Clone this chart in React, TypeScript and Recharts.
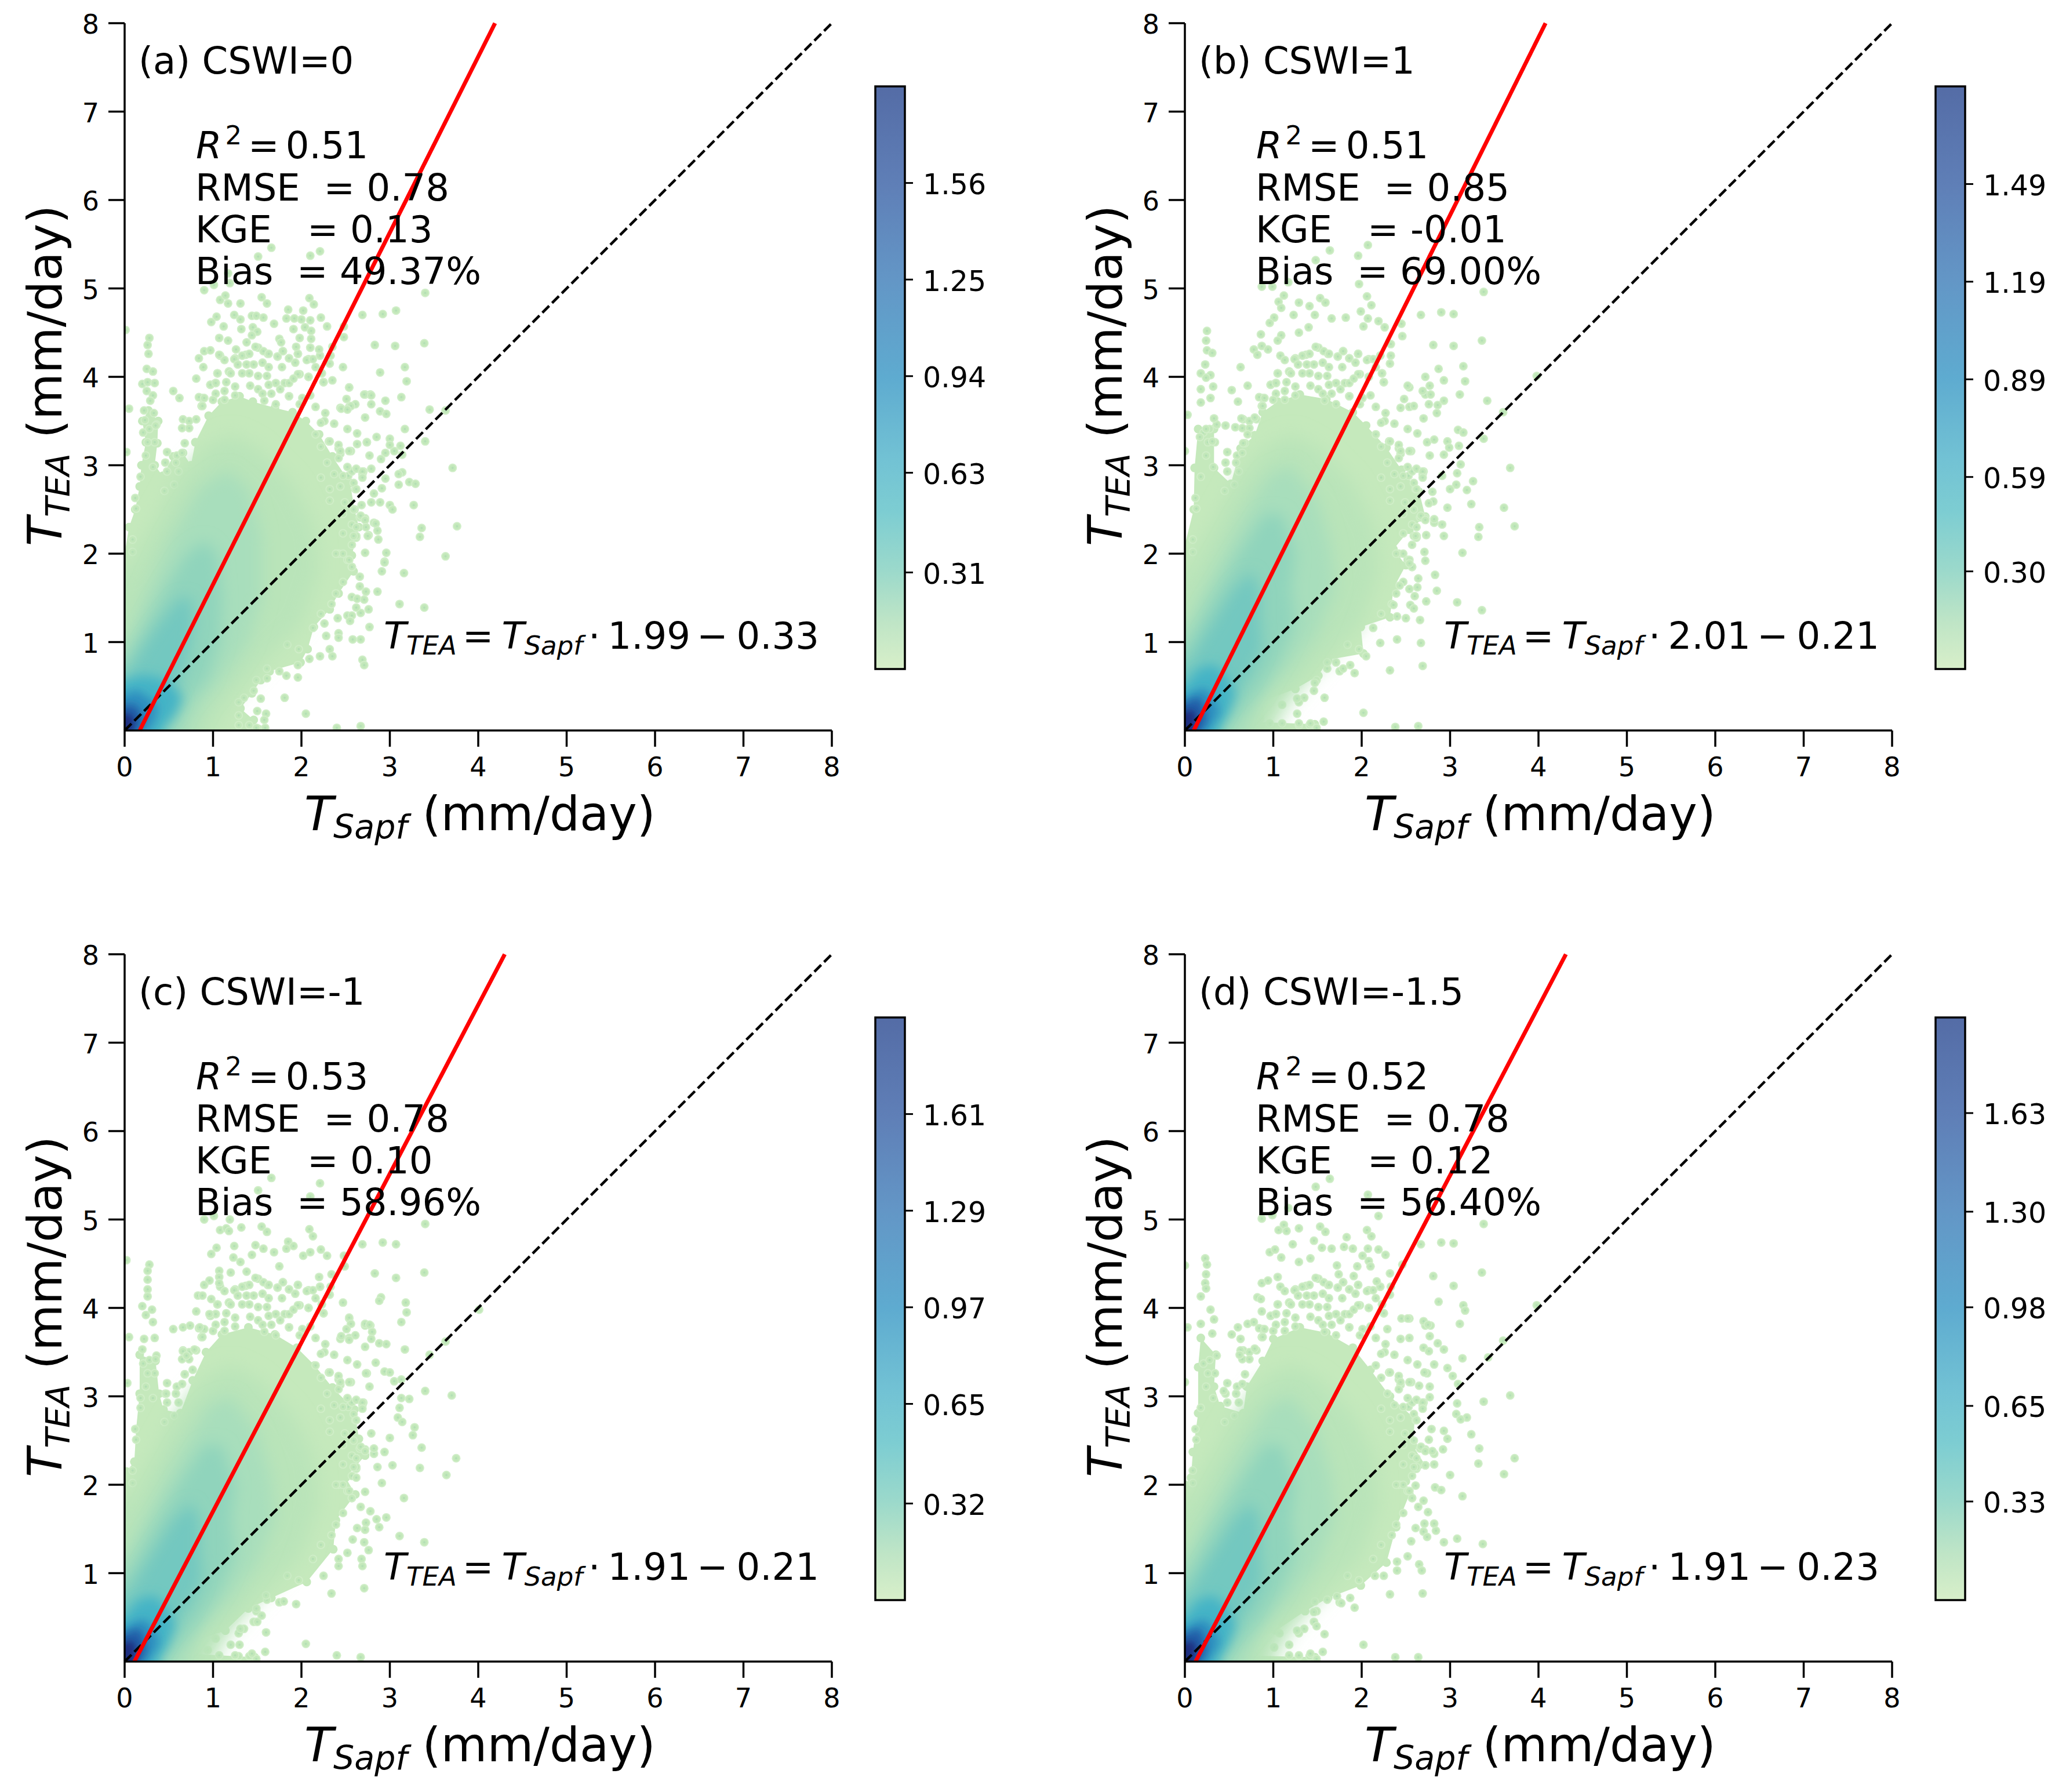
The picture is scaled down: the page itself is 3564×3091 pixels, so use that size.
import React from 'react'
import { ScatterChart, Scatter, XAxis, YAxis, ReferenceLine, BarChart, Bar } from 'recharts'

const FONT = '"DejaVu Sans", sans-serif'

const xTicks = [0, 1, 2, 3, 4, 5, 6, 7, 8]
const yTicks = [1, 2, 3, 4, 5, 6, 7, 8]
const identityLine = [[0, 0], [8, 8]]

// outer edge of the solid part of the point cloud in each panel
const envelopeA = [[-0.3, -0.3], [-0.3, 2.0], [0, 2.0], [0.05, 2.3], [0.12, 2.5], [0.17, 2.76], [0.19, 3.0], [0.24, 3.26], [0.2, 3.5], [0.27, 3.62], [0.38, 3.5], [0.37, 3.25], [0.34, 3.0], [0.43, 2.88], [0.55, 3.1], [0.66, 3.14], [0.75, 3.0], [0.8, 3.26], [0.95, 3.56], [1.1, 3.72], [1.3, 3.78], [1.45, 3.72], [1.7, 3.65], [1.9, 3.6], [2.05, 3.5], [2.2, 3.35], [2.35, 3.1], [2.55, 2.8], [2.6, 2.5], [2.65, 2.3], [2.57, 1.98], [2.59, 1.8], [2.42, 1.55], [2.32, 1.37], [2.14, 1.17], [2.07, 0.92], [1.99, 0.77], [1.64, 0.67], [1.54, 0.57], [1.44, 0.42], [1.31, 0.25], [1.46, 0.12], [1.51, 0.02], [1.51, -0.3]]
const envelopeB = [[-0.3, -0.3], [-0.3, 1.95], [0, 2.1], [0.1, 2.5], [0.11, 2.97], [0.15, 3.41], [0.33, 3.41], [0.33, 2.97], [0.52, 2.79], [0.63, 3.19], [0.79, 3.34], [0.88, 3.6], [1.05, 3.72], [1.3, 3.8], [1.6, 3.75], [1.9, 3.6], [2.05, 3.45], [2.28, 3.2], [2.45, 2.95], [2.65, 2.7], [2.72, 2.42], [2.54, 2.27], [2.36, 2.05], [2.5, 1.87], [2.36, 1.61], [2.32, 1.28], [1.99, 1.17], [2.02, 0.87], [1.62, 0.8], [1.51, 0.62], [1.25, 0.47], [0.85, 0.32], [0.74, 0.1], [1.47, 0.07], [1.47, -0.3]]
const envelopeC = [[-0.3, -0.3], [-0.3, 2.15], [0.02, 2.15], [0.11, 2.26], [0.13, 2.63], [0.17, 3.03], [0.17, 3.47], [0.35, 3.4], [0.39, 3.03], [0.44, 2.85], [0.63, 2.81], [0.77, 3.18], [0.92, 3.5], [1.1, 3.7], [1.4, 3.78], [1.7, 3.7], [1.95, 3.55], [2.15, 3.35], [2.35, 3.1], [2.6, 2.85], [2.65, 2.52], [2.72, 2.33], [2.5, 2.08], [2.61, 1.89], [2.39, 1.6], [2.36, 1.27], [2.06, 0.9], [1.66, 0.72], [1.4, 0.6], [1.14, 0.35], [0.81, 0.24], [0.7, 0.09], [1.47, 0.05], [1.47, -0.3]]
const envelopeD = [[-0.3, -0.3], [-0.3, 2.0], [0, 2.0], [0.07, 2.08], [0.09, 2.37], [0.15, 2.81], [0.15, 3.33], [0.18, 3.66], [0.35, 3.47], [0.33, 3.11], [0.4, 2.89], [0.66, 2.81], [0.7, 3.11], [0.88, 3.4], [1.0, 3.65], [1.3, 3.78], [1.6, 3.72], [1.9, 3.55], [2.1, 3.3], [2.32, 3.0], [2.6, 2.75], [2.58, 2.44], [2.72, 2.22], [2.5, 2.04], [2.54, 1.89], [2.39, 1.52], [2.28, 1.12], [1.99, 0.86], [1.62, 0.72], [1.36, 0.57], [1.03, 0.35], [0.77, 0.24], [0.66, 0.07], [1.47, 0.05], [1.47, -0.3]]

// points along the rim of the cloud, at much the same places in all four panels
const rimPoints = [[0.66, 3.52], [0.73, 3.5], [0.81, 3.52], [0.65, 3.42], [0.73, 3.42], [0.68, 3.25], [0.48, 3.15], [0.59, 3.11], [0.65, 3.14], [0.46, 3.03], [0.58, 3.03], [0.48, 2.93], [0.61, 2.93], [0.18, 2.87], [0.56, 2.78], [0.45, 2.71], [0.12, 2.63], [0.13, 2.51], [0.09, 2.16], [0.09, 2.02], [0.21, 3.37], [0.34, 3.26], [0.36, 3.46], [0.28, 3.41], [0.26, 3.26], [0.24, 3.11], [0.32, 2.98], [0.88, 3.76], [0.87, 3.67], [0.97, 3.91], [1.03, 3.93], [1.05, 4.04], [1.18, 4.06], [1.25, 4.21], [1.37, 4.25], [1.51, 4.33], [1.62, 4.26], [1.73, 4.23], [1.79, 4.29], [1.86, 4.21], [1.96, 4.26], [2.08, 4.2], [2.21, 4.24], [2.33, 4.24], [2.32, 4.15], [2.23, 4.04], [2.25, 3.94], [2.08, 4.0], [1.98, 4.03], [1.86, 3.78], [2.27, 3.59], [2.26, 3.5], [2.16, 3.35], [2.31, 3.27], [2.42, 3.19], [2.56, 3.16], [2.7, 2.93], [2.53, 2.88], [2.61, 2.73], [2.66, 2.41], [2.62, 2.18], [2.34, 1.43], [2.39, 1.55], [2.47, 1.68], [2.57, 1.85], [2.52, 1.93], [2.42, 2.0], [2.22, 1.32], [2.13, 1.16], [1.97, 0.92], [1.84, 0.97], [1.75, 0.67], [1.61, 0.7], [1.49, 0.57], [1.46, 0.45], [1.35, 0.37], [1.29, 0.32], [1.41, 0.06], [1.29, 0.06], [1.49, 0.03], [2.62, 2.2], [2.72, 2.4], [2.82, 2.35], [2.44, 2.76], [2.57, 2.93], [2.69, 2.9], [2.77, 3.11], [2.44, 3.13], [2.29, 3.03], [2.74, 3.26], [2.52, 3.41], [2.63, 3.36], [2.22, 3.48], [2.37, 3.47], [2.54, 3.66], [2.44, 3.65], [2.72, 3.8], [2.78, 3.8], [2.54, 3.88]]

// the patchy crown above the solid part
const crownPoints = [[1.08, 4.24], [1.13, 4.19], [1.24, 4.2], [1.33, 4.24], [1.41, 4.26], [1.48, 4.34], [1.57, 4.29], [1.63, 4.26], [1.73, 4.23], [1.79, 4.29], [1.86, 4.21], [1.93, 4.16], [1.96, 4.26], [2.06, 4.19], [2.13, 4.2], [2.21, 4.24], [1.18, 4.06], [1.28, 4.14], [1.38, 4.14], [1.46, 4.14], [1.56, 4.16], [1.63, 4.11], [1.78, 4.11], [2.16, 4.11], [2.23, 4.04], [1.05, 4.04], [1.2, 4.04], [1.33, 4.04], [1.41, 4.04], [1.51, 4.01], [1.61, 4.01], [1.71, 3.93], [1.81, 3.93], [1.96, 4.03], [2.08, 4.0], [2.25, 3.94], [1.86, 3.93], [1.91, 3.98], [0.97, 3.91], [1.03, 3.93], [1.15, 3.94], [1.25, 3.89], [1.42, 3.9], [1.51, 3.86], [1.63, 3.91], [1.76, 3.86], [1.03, 3.81], [1.13, 3.84], [1.25, 3.79], [1.56, 3.81], [1.66, 3.81], [1.86, 3.78], [2.01, 3.76], [2.1, 3.79], [0.84, 3.77], [0.9, 3.76], [1.0, 3.74], [1.13, 3.74], [1.58, 3.73], [1.71, 3.69], [1.98, 3.69], [0.88, 3.67], [2.16, 3.66]]

// the shoulder on the right of the solid part
const shoulderPoints = [[2.22, 3.21], [2.32, 3.27], [2.42, 3.23], [2.44, 3.16], [2.54, 3.16], [2.29, 3.03], [2.42, 3.08], [2.52, 2.98], [2.62, 2.96], [2.69, 2.93], [2.69, 2.86], [2.37, 2.9], [2.47, 2.88], [2.59, 2.8], [2.44, 2.76], [2.22, 2.86], [2.32, 2.73], [2.62, 2.73], [2.49, 2.58], [2.32, 2.6], [2.59, 2.5], [2.47, 2.45], [2.67, 2.43], [2.72, 2.38], [2.57, 2.33], [2.62, 2.3], [2.47, 2.23], [2.59, 2.2], [2.57, 2.1], [2.47, 2.0], [2.39, 2.0], [2.54, 1.93], [2.57, 1.85]]

// scattered single points
const pointsA = [[1.66, 5.46], [1.51, 5.36], [2.1, 5.37], [2.21, 5.42], [0.9, 4.98], [1.01, 5.04], [1.19, 5.06], [1.17, 5.17], [1.08, 4.87], [1.14, 4.92], [1.17, 4.83], [1.31, 4.83], [1.55, 4.9], [1.61, 4.83], [2.09, 4.89], [2.14, 4.82], [1.85, 4.76], [2.02, 4.75], [3.4, 4.95], [2.69, 4.7], [2.92, 4.71], [3.07, 4.75], [2.22, 4.67], [1.04, 4.68], [0.98, 4.62], [1.12, 4.57], [1.24, 4.7], [1.31, 4.65], [1.44, 4.69], [1.49, 4.69], [1.57, 4.67], [1.32, 4.54], [1.45, 4.56], [1.5, 4.51], [1.69, 4.6], [1.83, 4.66], [1.92, 4.66], [2.0, 4.65], [2.1, 4.64], [1.91, 4.54], [2.04, 4.56], [2.11, 4.52], [2.29, 4.57], [2.48, 4.57], [2.48, 4.45], [1.98, 4.44], [2.11, 4.43], [0.28, 4.44], [0.26, 4.36], [0.27, 4.26], [1.07, 4.44], [1.17, 4.41], [1.44, 4.47], [1.38, 4.39], [1.75, 4.43], [1.77, 4.39], [2.83, 4.36], [3.06, 4.35], [3.39, 4.38], [1.94, 4.34], [2.1, 4.33], [2.2, 4.31], [2.35, 4.34], [0.9, 4.29], [0.97, 4.3], [1.26, 4.31], [0.84, 4.21], [1.07, 4.25], [0.89, 4.11], [2.47, 4.11], [3.17, 4.11], [2.89, 4.05], [3.19, 3.95], [2.35, 3.96], [0.81, 3.98], [0.25, 4.09], [0.32, 4.06], [0.55, 3.84], [0.62, 3.76], [0.2, 3.92], [0.26, 3.94], [0.34, 3.93], [0.25, 3.84], [0.32, 3.79], [0.29, 3.73], [0.05, 3.64], [0.22, 3.62], [0.33, 3.59], [0.23, 3.51], [0.35, 3.45], [0.01, 4.53], [0.02, 3.15], [2.54, 3.88], [3.13, 3.77], [2.51, 3.75], [2.71, 3.8], [2.79, 3.79], [2.79, 3.69], [2.95, 3.73], [2.61, 3.69], [2.56, 3.67], [2.45, 3.64], [2.52, 3.63], [2.72, 3.54], [2.89, 3.61], [2.96, 3.58], [3.45, 3.63], [3.63, 3.62], [3.17, 3.41], [3.4, 3.27], [2.85, 3.32], [3.0, 3.3], [2.74, 3.26], [2.63, 3.24], [3.0, 3.23], [3.12, 3.22], [3.05, 3.16], [2.95, 3.14], [2.9, 3.07], [3.14, 3.12], [2.79, 2.96], [3.71, 2.97], [3.14, 2.92], [3.1, 2.9], [2.95, 2.85], [3.22, 2.81], [3.29, 2.79], [3.1, 2.78], [2.91, 2.74], [2.82, 2.68], [2.79, 2.58], [2.89, 2.58], [3.0, 2.55], [3.03, 2.5], [3.27, 2.55], [2.68, 2.55], [3.36, 2.29], [3.76, 2.31], [3.34, 2.19], [2.84, 2.34], [2.86, 2.26], [2.87, 2.16], [2.76, 2.21], [2.72, 2.01], [2.96, 2.01], [3.63, 1.97], [2.94, 1.91], [2.77, 1.17], [3.11, 1.43], [3.39, 1.39], [2.86, 1.57], [2.73, 1.57], [2.76, 1.37], [2.67, 1.33], [2.62, 1.39], [2.57, 1.51], [2.63, 1.49], [2.71, 1.48], [2.66, 1.63], [2.66, 1.74], [3.16, 1.78], [2.91, 1.8], [2.94, 1.9], [2.75, 2.2], [2.73, 2.3], [2.41, 1.27], [2.52, 1.3], [2.57, 1.3], [2.55, 1.24], [2.26, 1.21], [2.42, 1.1], [2.42, 1.05], [2.58, 1.03], [2.67, 1.03], [2.28, 1.07], [2.32, 0.92], [2.35, 0.84], [2.21, 0.84], [2.69, 0.8], [2.71, 0.74], [2.09, 0.81], [1.96, 0.74], [1.96, 0.6], [1.83, 0.62], [1.61, 0.59], [1.81, 0.37], [1.54, 0.36], [1.5, 0.22], [1.6, 0.19], [1.58, 0.12], [2.05, 0.19], [1.59, 0.03], [2.4, 0.03], [2.67, 0.05], [1.29, 0.17]]
const pointsB = [[2.07, 5.49], [1.64, 5.43], [1.96, 5.37], [1.48, 5.32], [1.17, 5.07], [0.87, 5.02], [0.99, 5.02], [1.97, 5.05], [3.38, 4.96], [2.06, 4.91], [1.12, 4.92], [1.06, 4.85], [1.29, 4.84], [1.53, 4.89], [1.59, 4.84], [1.41, 4.8], [1.09, 4.78], [2.11, 4.81], [1.99, 4.74], [2.9, 4.73], [3.04, 4.71], [2.67, 4.7], [1.23, 4.7], [1.47, 4.7], [1.66, 4.66], [1.01, 4.67], [0.96, 4.61], [1.82, 4.67], [2.07, 4.66], [2.19, 4.63], [2.45, 4.6], [2.02, 4.57], [2.26, 4.56], [1.4, 4.56], [0.25, 4.52], [0.24, 4.41], [0.25, 4.3], [0.31, 4.27], [0.86, 4.48], [1.09, 4.47], [1.29, 4.5], [2.46, 4.46], [3.36, 4.41], [2.81, 4.36], [3.04, 4.35], [2.33, 4.37], [0.78, 4.31], [0.87, 4.35], [0.94, 4.31], [0.82, 4.25], [1.05, 4.41], [0.63, 4.11], [0.23, 4.14], [0.18, 4.04], [0.29, 4.02], [0.24, 3.99], [3.15, 4.12], [2.87, 4.09], [2.72, 4.0], [2.93, 3.96], [3.17, 3.95], [3.98, 4.01], [2.52, 3.9], [2.77, 3.9], [2.69, 3.84], [3.11, 3.8], [0.71, 3.9], [0.53, 3.85], [0.6, 3.72], [0.18, 3.86], [0.32, 3.89], [0.29, 3.76], [0.18, 3.71], [0.03, 3.57], [0.33, 3.53], [0.46, 3.45], [2.48, 3.75], [2.59, 3.67], [2.76, 3.69], [2.86, 3.68], [2.85, 3.59], [2.93, 3.73], [3.42, 3.73], [3.6, 3.6], [2.7, 3.53], [0.57, 3.43], [0.64, 3.53], [0.79, 3.54], [0.24, 3.41], [0.31, 3.27], [0.17, 3.32], [0.71, 3.35], [0.0, 3.16], [0.66, 3.25], [3.09, 3.4], [3.15, 3.37], [3.38, 3.3], [2.82, 3.29], [2.97, 3.27], [3.1, 3.22], [2.99, 3.2], [2.93, 3.12], [3.12, 3.01], [3.68, 2.97], [3.08, 2.91], [3.26, 2.82], [3.07, 2.78], [3.0, 2.73], [3.19, 2.72], [2.8, 2.7], [2.91, 2.88], [2.81, 2.59], [2.97, 2.52], [3.24, 2.56], [3.61, 2.52], [2.76, 2.57], [2.82, 2.39], [2.91, 2.33], [3.33, 2.3], [3.73, 2.31], [3.32, 2.19], [2.93, 2.2], [2.73, 2.21], [2.61, 2.2], [3.14, 2.01], [2.71, 2.02], [2.72, 1.92], [2.54, 1.89], [2.83, 1.76], [2.64, 1.72], [2.63, 1.62], [2.85, 1.58], [2.54, 1.6], [2.43, 1.64], [2.6, 1.52], [2.73, 1.46], [3.08, 1.45], [2.55, 1.42], [2.59, 1.38], [3.36, 1.36], [2.66, 1.25], [2.4, 1.29], [2.5, 1.27], [2.36, 1.42], [2.4, 1.03], [2.67, 0.99], [2.21, 0.99], [2.05, 0.84], [2.69, 0.73], [2.32, 0.68], [1.92, 0.65], [1.71, 0.77], [1.87, 0.74], [1.79, 0.7], [1.61, 0.77], [1.47, 0.54], [1.58, 0.37], [1.27, 0.36], [1.1, 0.29], [2.02, 0.2], [1.27, 0.19], [0.85, 0.23], [1.57, 0.1], [2.38, 0.04], [2.64, 0.05], [1.42, 0.08], [1.29, 0.08], [1.1, 0.08], [0.96, 0.08], [0.85, 0.14]]
const pointsC = [[1.66, 5.47], [2.21, 5.41], [1.51, 5.33], [2.1, 5.26], [0.9, 5.0], [1.01, 5.04], [1.19, 5.0], [3.4, 4.95], [2.09, 4.89], [2.13, 4.81], [1.08, 4.88], [1.15, 4.9], [1.18, 4.87], [1.32, 4.91], [1.55, 4.92], [1.61, 4.86], [2.92, 4.74], [3.07, 4.72], [2.69, 4.72], [1.85, 4.75], [1.83, 4.67], [1.91, 4.7], [1.04, 4.68], [0.98, 4.61], [1.24, 4.7], [1.48, 4.71], [1.57, 4.67], [1.69, 4.63], [2.22, 4.66], [2.02, 4.59], [2.1, 4.63], [2.29, 4.59], [2.48, 4.59], [2.49, 4.47], [1.23, 4.57], [1.44, 4.6], [1.31, 4.52], [0.02, 4.54], [0.28, 4.49], [0.26, 4.42], [0.26, 4.32], [0.26, 4.21], [0.26, 4.13], [1.07, 4.42], [1.07, 4.35], [1.75, 4.47], [1.2, 4.4], [1.38, 4.41], [3.39, 4.4], [2.83, 4.39], [3.07, 4.34], [2.34, 4.38], [0.96, 4.31], [0.9, 4.26], [1.07, 4.28], [2.2, 4.35], [0.83, 4.14], [0.88, 4.14], [0.98, 4.1], [2.9, 4.12], [2.88, 4.08], [3.18, 4.06], [3.19, 3.95], [2.47, 4.06], [4.01, 3.98], [0.81, 3.96], [0.2, 4.02], [0.31, 3.98], [0.24, 3.92], [0.96, 3.93], [2.54, 3.89], [2.56, 3.82], [3.13, 3.84], [2.72, 3.82], [2.77, 3.81], [2.8, 3.73], [2.79, 3.65], [2.51, 3.76], [2.61, 3.69], [2.45, 3.68], [2.54, 3.64], [0.55, 3.76], [0.66, 3.78], [0.74, 3.8], [0.85, 3.78], [0.32, 3.84], [0.34, 3.66], [0.05, 3.67], [0.22, 3.65], [2.88, 3.6], [2.96, 3.59], [3.17, 3.53], [2.72, 3.56], [3.63, 3.62], [3.45, 3.47], [0.66, 3.51], [0.79, 3.53], [2.84, 3.38], [0.7, 3.46], [0.35, 3.42], [0.2, 3.53], [0.03, 3.15], [0.18, 2.98], [0.68, 3.25], [0.77, 3.3], [2.94, 3.28], [3.0, 3.27], [2.73, 3.26], [3.13, 3.19], [3.05, 3.17], [3.4, 3.06], [3.7, 3.01], [3.22, 2.97], [3.13, 2.98], [0.47, 3.03], [3.11, 2.87], [3.09, 2.76], [3.14, 2.71], [3.28, 2.65], [3.26, 2.56], [3.0, 2.53], [2.79, 2.58], [3.36, 2.42], [3.75, 2.3], [3.34, 2.19], [3.64, 2.11], [3.03, 2.22], [2.94, 2.37], [2.82, 2.41], [2.86, 2.2], [2.91, 2.02], [2.62, 2.08], [2.72, 1.92], [3.16, 1.85], [2.67, 1.75], [2.78, 1.7], [2.96, 1.63], [2.85, 1.61], [2.73, 1.57], [2.88, 1.52], [2.63, 1.51], [2.72, 1.49], [3.11, 1.42], [3.39, 1.35], [2.71, 1.35], [2.58, 1.38], [2.76, 1.26], [2.52, 1.23], [2.42, 1.16], [2.42, 1.08], [2.68, 1.16], [2.69, 1.08], [2.25, 0.97], [2.71, 0.83], [2.34, 0.77], [1.94, 0.65], [1.8, 0.68], [1.6, 0.75], [1.49, 0.6], [1.55, 0.52], [1.5, 0.45], [1.6, 0.33], [1.31, 0.37], [1.3, 0.19], [1.2, 0.19], [1.03, 0.26], [2.05, 0.2], [1.59, 0.11], [2.4, 0.07], [2.67, 0.05], [0.79, 0.26], [1.44, 0.09], [1.25, 0.07], [1.07, 0.07], [0.94, 0.13]]
const pointsD = [[1.64, 5.46], [1.48, 5.37], [2.07, 5.28], [1.17, 5.13], [0.87, 5.01], [0.99, 5.05], [2.19, 5.04], [3.38, 4.95], [1.12, 4.94], [1.06, 4.88], [1.15, 4.87], [1.29, 4.9], [1.53, 4.92], [1.59, 4.86], [2.06, 4.88], [2.11, 4.81], [1.83, 4.8], [1.46, 4.76], [2.9, 4.74], [3.04, 4.73], [2.67, 4.72], [1.22, 4.72], [1.55, 4.68], [1.66, 4.67], [1.8, 4.69], [1.9, 4.67], [2.07, 4.67], [2.19, 4.66], [2.27, 4.6], [0.96, 4.63], [1.02, 4.66], [1.09, 4.57], [1.42, 4.56], [2.01, 4.59], [2.08, 4.53], [2.46, 4.49], [0.23, 4.56], [0.25, 4.49], [0.24, 4.38], [0.23, 4.28], [0.24, 4.22], [0.0, 4.48], [1.29, 4.52], [1.72, 4.48], [1.95, 4.47], [2.1, 4.47], [3.36, 4.4], [2.81, 4.36], [3.04, 4.25], [2.32, 4.39], [1.91, 4.36], [1.74, 4.38], [1.05, 4.35], [0.87, 4.28], [0.94, 4.31], [2.17, 4.3], [0.18, 4.13], [0.82, 4.12], [0.86, 4.1], [3.15, 4.03], [3.17, 3.97], [2.87, 4.07], [3.98, 4.03], [0.29, 3.98], [0.87, 3.96], [0.71, 3.82], [0.78, 3.84], [0.6, 3.78], [0.03, 3.78], [0.18, 3.82], [0.33, 3.87], [0.31, 3.71], [0.53, 3.7], [0.63, 3.65], [3.11, 3.82], [2.7, 3.85], [2.75, 3.81], [2.45, 3.88], [2.52, 3.88], [2.29, 3.76], [3.6, 3.63], [2.86, 3.6], [2.93, 3.53], [2.77, 3.68], [2.7, 3.55], [2.76, 3.51], [3.14, 3.43], [3.43, 3.44], [0.79, 3.54], [0.63, 3.52], [0.62, 3.47], [0, 3.16], [2.82, 3.36], [2.97, 3.32], [3.03, 3.23], [2.71, 3.27], [0.44, 3.06], [3.09, 3.14], [2.65, 3.12], [3.68, 3.01], [3.38, 2.94], [3.08, 2.92], [2.77, 2.99], [3.19, 2.76], [3.07, 2.8], [3.12, 2.74], [3.24, 2.57], [2.79, 2.63], [2.93, 2.61], [2.97, 2.52], [2.76, 2.51], [3.33, 2.41], [2.92, 2.4], [2.8, 2.38], [3.73, 2.3], [3.32, 2.24], [3.61, 2.12], [3.0, 2.11], [2.72, 2.22], [2.82, 2.23], [2.61, 1.99], [2.83, 1.97], [2.9, 1.94], [3.14, 1.87], [2.7, 1.82], [2.64, 1.75], [2.75, 1.69], [2.82, 1.56], [2.71, 1.56], [2.84, 1.48], [2.61, 1.51], [2.7, 1.47], [2.74, 1.41], [3.08, 1.39], [2.93, 1.35], [3.37, 1.33], [2.56, 1.36], [2.52, 1.19], [2.4, 1.13], [2.4, 1.03], [2.65, 1.1], [2.68, 1.03], [2.15, 0.97], [2.25, 0.97], [2.69, 0.77], [2.32, 0.76], [1.92, 0.61], [1.87, 0.72], [1.72, 0.74], [1.77, 0.66], [1.47, 0.68], [1.46, 0.56], [1.49, 0.4], [1.58, 0.31], [1.27, 0.35], [1.07, 0.32], [1.18, 0.19], [2.02, 0.19], [1.56, 0.11], [2.38, 0.05], [2.64, 0.05], [1.42, 0.09], [1.29, 0.07], [1.01, 0.16], [0.7, 0.14], [1.18, 0.07]]

// density bands, outermost first; panel (a) sits a little apart from the other three
const band1 = [[-0.3, -0.3], [-0.3, 1.8], [0, 1.8], [0.3, 2.3], [0.6, 2.85], [0.9, 3.2], [1.2, 3.35], [1.5, 3.2], [1.9, 2.8], [2.15, 2.3], [2.2, 1.8], [2.0, 1.2], [1.6, 0.8], [1.2, 0.35], [1.0, 0], [1.0, -0.3]]
const band2A = [[-0.3, -0.3], [-0.3, 1.0], [0, 1.0], [0.25, 1.6], [0.5, 2.15], [0.85, 2.75], [1.15, 2.95], [1.4, 2.75], [1.55, 2.2], [1.55, 1.5], [1.4, 1.0], [1.15, 0.62], [0.9, 0.3], [0.75, 0], [0.75, -0.3]]
const band3A = [[-0.3, -0.3], [-0.3, 0.78], [0, 0.78], [0.2, 1.15], [0.45, 1.6], [0.7, 2.0], [0.9, 2.15], [1.05, 2.0], [1.1, 1.5], [1.08, 1.0], [0.95, 0.6], [0.7, 0.3], [0.55, 0], [0.55, -0.3]]
const band4A = [[-0.3, -0.3], [-0.3, 0.6], [0, 0.6], [0.15, 0.85], [0.38, 1.2], [0.62, 1.5], [0.75, 1.5], [0.78, 1.2], [0.72, 0.85], [0.6, 0.5], [0.45, 0.25], [0.35, 0], [0.35, -0.3]]
const band5A = [[-0.3, -0.3], [-0.3, 0.55], [0, 0.55], [0.12, 0.62], [0.3, 0.62], [0.5, 0.55], [0.66, 0.38], [0.58, 0.18], [0.42, 0], [0.42, -0.3]]
const band6A = [[-0.3, -0.3], [-0.3, 0.4], [0, 0.4], [0.12, 0.46], [0.24, 0.4], [0.38, 0.28], [0.34, 0.1], [0.26, 0], [0.26, -0.3]]
const band7A = [[-0.3, -0.3], [-0.3, 0.28], [0, 0.28], [0.1, 0.3], [0.18, 0.22], [0.2, 0.08], [0.14, 0], [0.14, -0.3]]
const band8A = [[-0.3, -0.3], [-0.3, 0.18], [0, 0.18], [0.07, 0.18], [0.11, 0.12], [0.1, 0.03], [0.07, 0], [0.07, -0.3]]
const band2 = [[-0.3, -0.3], [-0.3, 1.2], [0, 1.2], [0.3, 1.8], [0.6, 2.35], [0.95, 2.9], [1.2, 3.0], [1.5, 2.6], [1.65, 2.1], [1.7, 1.6], [1.5, 1.1], [1.2, 0.7], [0.85, 0.35], [0.7, 0], [0.7, -0.3]]
const band3 = [[-0.3, -0.3], [-0.3, 0.95], [0, 0.95], [0.3, 1.5], [0.6, 2.0], [0.9, 2.45], [1.1, 2.45], [1.25, 2.0], [1.2, 1.6], [1.25, 1.2], [1.1, 0.85], [0.85, 0.45], [0.6, 0.15], [0.45, 0], [0.45, -0.3]]
const band4 = [[-0.3, -0.3], [-0.3, 0.72], [0, 0.72], [0.3, 1.2], [0.55, 1.6], [0.75, 1.8], [0.85, 1.6], [0.85, 1.25], [0.88, 0.95], [0.72, 0.6], [0.45, 0.28], [0.3, 0], [0.3, -0.3]]
const band5 = [[-0.3, -0.3], [-0.3, 0.5], [0, 0.5], [0.12, 0.68], [0.3, 0.75], [0.42, 0.68], [0.58, 0.42], [0.5, 0.2], [0.38, 0], [0.38, -0.3]]
const band6 = [[-0.3, -0.3], [-0.3, 0.36], [0, 0.36], [0.1, 0.45], [0.24, 0.48], [0.32, 0.38], [0.4, 0.22], [0.32, 0.08], [0.24, 0], [0.24, -0.3]]
const band7 = [[-0.3, -0.3], [-0.3, 0.3], [0, 0.3], [0.08, 0.36], [0.18, 0.36], [0.24, 0.2], [0.24, 0.08], [0.16, 0], [0.16, -0.3]]
const band8 = [[-0.3, -0.3], [-0.3, 0.2], [0, 0.2], [0.06, 0.24], [0.12, 0.2], [0.13, 0.1], [0.1, 0], [0.1, -0.3]]
const bandsA = [band1, band2A, band3A, band4A, band5A, band6A, band7A, band8A]
const bandsRest = [band1, band2, band3, band4, band5, band6, band7, band8]
const bandColors = ['#b9e4b9', '#a8debc', '#90d4bc', '#73c8c0', '#45b4c6', '#2d8fbf', '#225fa8', '#1b2f80']
const bandBlur = [16, 14, 13, 12, 10, 8, 7, 6]

// fit lines
const fitA = [[0.17, 0], [4.19, 8]]
const fitB = [[0.1, 0], [4.08, 8]]
const fitC = [[0.11, 0], [4.3, 8]]
const fitD = [[0.12, 0], [4.31, 8]]

// colour bars
const cbTicksA = [0.31, 0.63, 0.94, 1.25, 1.56]
const cbTicksB = [0.3, 0.59, 0.89, 1.19, 1.49]
const cbTicksC = [0.32, 0.65, 0.97, 1.29, 1.61]
const cbTicksD = [0.33, 0.65, 0.98, 1.3, 1.63]
const cbStops = [[0, '#d8efc9'], [0.08, '#bfe5c6'], [0.17, '#9bd9cb'], [0.27, '#7dcdd2'], [0.36, '#72c2d4'], [0.5, '#5eabd0'], [0.67, '#6396c6'], [0.83, '#5f7fb7'], [1, '#546ca6']]

const toPoints = (list: number[][]) => list.map(([x, y]) => ({ x, y }))

const dot = (p: any) => (
  <g>
    <circle cx={p.cx} cy={p.cy} r={7.5} fill="#d0eec8" />
    <circle cx={p.cx} cy={p.cy} r={5.5} fill="#c3e8ba" />
    <circle cx={p.cx} cy={p.cy} r={2} fill="#b3dfb5" />
  </g>
)

const solidDot = (p: any) => <circle cx={p.cx} cy={p.cy} r={7.5} fill="#c5e9bc" />

const noDot = () => null

const polygon = (fill: string, filter?: string) => (p: any) => (
  <path
    d={'M' + p.points.map((pt: any) => `${pt.x},${pt.y}`).join('L') + 'Z'}
    fill={fill}
    stroke="none"
    filter={filter}
  />
)

const axisStroke = { stroke: '#000', strokeWidth: 3.5 }
const tickFont = { fill: '#000', fontSize: 46, fontFamily: FONT, dy: 2 }
const layer = { position: 'absolute' as const, left: 0, top: 0 }

function Panel({ id, left, top, title, stats, eq, envelope, points, bands, fit, cbTicks, cbMax }: any) {
  const textStyle = { fontFamily: FONT, whiteSpace: 'pre' as const }
  const italic = { fontStyle: 'italic' as const }
  return (
    <div style={{ position: 'absolute', left, top, width: 1780, height: 1500 }}>
      {/* three stacked charts: cloud, then lines, then axes and text on top */}
      <div style={layer}>
        <ScatterChart width={1780} height={1500} margin={{ top: 40, left: 215, right: 345, bottom: 240 }}>
          <defs>
            {bandBlur.map((b, i) => (
              <filter key={i} id={`blur-${id}-${i}`} x="-50%" y="-50%" width="200%" height="200%">
                <feGaussianBlur stdDeviation={b} />
              </filter>
            ))}
          </defs>
          <XAxis type="number" dataKey="x" domain={[0, 8]} allowDataOverflow hide />
          <YAxis type="number" dataKey="y" domain={[0, 8]} allowDataOverflow hide />
          <Scatter data={toPoints(envelope)} line={polygon('#c5e9bc')} shape={solidDot} isAnimationActive={false} />
          <Scatter data={toPoints(rimPoints)} shape={dot} isAnimationActive={false} />
          <Scatter data={toPoints(crownPoints)} shape={dot} isAnimationActive={false} />
          <Scatter data={toPoints(shoulderPoints)} shape={dot} isAnimationActive={false} />
          <Scatter data={toPoints(points)} shape={dot} isAnimationActive={false} />
          {bands.map((b: number[][], i: number) => (
            <Scatter
              key={i}
              data={toPoints(b)}
              line={polygon(bandColors[i], `url(#blur-${id}-${i})`)}
              shape={noDot}
              isAnimationActive={false}
            />
          ))}
        </ScatterChart>
      </div>
      <div style={layer}>
        <ScatterChart width={1780} height={1500} margin={{ top: 40, left: 215, right: 345, bottom: 240 }}>
          <XAxis type="number" dataKey="x" domain={[0, 8]} allowDataOverflow hide />
          <YAxis type="number" dataKey="y" domain={[0, 8]} allowDataOverflow hide />
          <ReferenceLine
            segment={toPoints(identityLine)}
            stroke="#000"
            strokeWidth={4.5}
            strokeDasharray="16.6 7.1"
          />
          <ReferenceLine segment={toPoints(fit)} stroke="#ff0000" strokeWidth={7} />
        </ScatterChart>
      </div>
      <div style={layer}>
        <ScatterChart width={1780} height={1500} margin={{ top: 40, left: 0, right: 345, bottom: 140 }}>
          <XAxis
            type="number"
            dataKey="x"
            domain={[0, 8]}
            ticks={xTicks}
            interval={0}
            allowDataOverflow
            height={100}
            tickSize={28}
            tickMargin={16}
            axisLine={axisStroke}
            tickLine={axisStroke}
            tick={tickFont}
          />
          <YAxis
            type="number"
            dataKey="y"
            domain={[0, 8]}
            ticks={yTicks}
            interval={0}
            allowDataOverflow
            width={215}
            tickSize={28}
            tickMargin={16}
            axisLine={axisStroke}
            tickLine={axisStroke}
            tick={tickFont}
          />
          <text x={239} y={127} fontSize={64} fill="#000" style={textStyle}>{title}</text>
          <text x={338} y={273} fontSize={64} fill="#000" style={textStyle}>
            <tspan style={italic}>R</tspan>
            <tspan fontSize={45} dy={-24} dx={6}>2</tspan>
            <tspan dy={24} dx={11}>=</tspan>
            <tspan dx={11}>{stats[0]}</tspan>
          </text>
          <text x={337} y={346} fontSize={64} fill="#000" style={textStyle}>{'RMSE  = ' + stats[1]}</text>
          <text x={337} y={418} fontSize={64} fill="#000" style={textStyle}>{'KGE   = ' + stats[2]}</text>
          <text x={337} y={490} fontSize={64} fill="#000" style={textStyle}>{'Bias  = ' + stats[3]}</text>
          <text x={662} y={1119} fontSize={64} fill="#000" style={textStyle}>
            <tspan style={italic}>T</tspan>
            <tspan style={italic} fontSize={45} dy={10}>TEA</tspan>
            <tspan dy={-10} dx={10}>=</tspan>
            <tspan style={italic} dx={14}>T</tspan>
            <tspan style={italic} fontSize={45} dy={10}>Sapf</tspan>
            <tspan dy={-10} dx={10}>{'\u00b7'}</tspan>
            <tspan dx={13}>{eq[0]}</tspan>
            <tspan dx={11}>{'\u2212'}</tspan>
            <tspan dx={15}>{eq[1]}</tspan>
          </text>
          <text x={525} y={1432} fontSize={82} fill="#000" style={textStyle}>
            <tspan style={italic}>T</tspan>
            <tspan style={italic} fontSize={57} dy={14}>Sapf</tspan>
            <tspan dy={-14}>{' (mm/day)'}</tspan>
          </text>
          <text x={0} y={0} transform="translate(106,942) rotate(-90)" fontSize={82} fill="#000" style={textStyle}>
            <tspan style={italic}>T</tspan>
            <tspan style={italic} fontSize={57} dy={14}>TEA</tspan>
            <tspan dy={-14}>{' (mm/day)'}</tspan>
          </text>
        </ScatterChart>
      </div>
      <div style={{ position: 'absolute', left: 1505, top: 139 }}>
        <BarChart
          width={260}
          height={1025}
          data={[{ name: 'cb', value: cbMax }]}
          barCategoryGap={0}
          margin={{ top: 10, bottom: 10, left: 5, right: 0 }}
        >
          <defs>
            <linearGradient id={`cb-${id}`} x1="0" y1="1" x2="0" y2="0">
              {cbStops.map(([o, c]) => (
                <stop key={o as number} offset={o as number} stopColor={c as string} />
              ))}
            </linearGradient>
          </defs>
          <XAxis dataKey="name" hide />
          <YAxis
            orientation="right"
            type="number"
            domain={[0, cbMax]}
            ticks={cbTicks}
            interval={0}
            width={204}
            axisLine={false}
            tickSize={14}
            tickMargin={17}
            tickFormatter={(v: number) => v.toFixed(2)}
            tickLine={{ stroke: '#000', strokeWidth: 3 }}
            tick={{ fill: '#000', fontSize: 49, fontFamily: FONT, dy: 2 }}
          />
          <Bar dataKey="value" fill={`url(#cb-${id})`} stroke="#000" strokeWidth={3.5} isAnimationActive={false} />
        </BarChart>
      </div>
    </div>
  )
}

export default function App() {
  return (
    <div style={{ position: 'absolute', left: 0, top: 0, width: 3564, height: 3091, background: '#fff' }}>
      <Panel id="a" left={0} top={0} title="(a) CSWI=0" stats={['0.51', '0.78', '0.13', '49.37%']} eq={['1.99', '0.33']} envelope={envelopeA} points={pointsA} bands={bandsA} fit={fitA} cbTicks={cbTicksA} cbMax={1.87} />
      <Panel id="b" left={1829} top={0} title="(b) CSWI=1" stats={['0.51', '0.85', '-0.01', '69.00%']} eq={['2.01', '0.21']} envelope={envelopeB} points={pointsB} bands={bandsRest} fit={fitB} cbTicks={cbTicksB} cbMax={1.79} />
      <Panel id="c" left={0} top={1606} title="(c) CSWI=-1" stats={['0.53', '0.78', '0.10', '58.96%']} eq={['1.91', '0.21']} envelope={envelopeC} points={pointsC} bands={bandsRest} fit={fitC} cbTicks={cbTicksC} cbMax={1.93} />
      <Panel id="d" left={1829} top={1606} title="(d) CSWI=-1.5" stats={['0.52', '0.78', '0.12', '56.40%']} eq={['1.91', '0.23']} envelope={envelopeD} points={pointsD} bands={bandsRest} fit={fitD} cbTicks={cbTicksD} cbMax={1.95} />
    </div>
  )
}
